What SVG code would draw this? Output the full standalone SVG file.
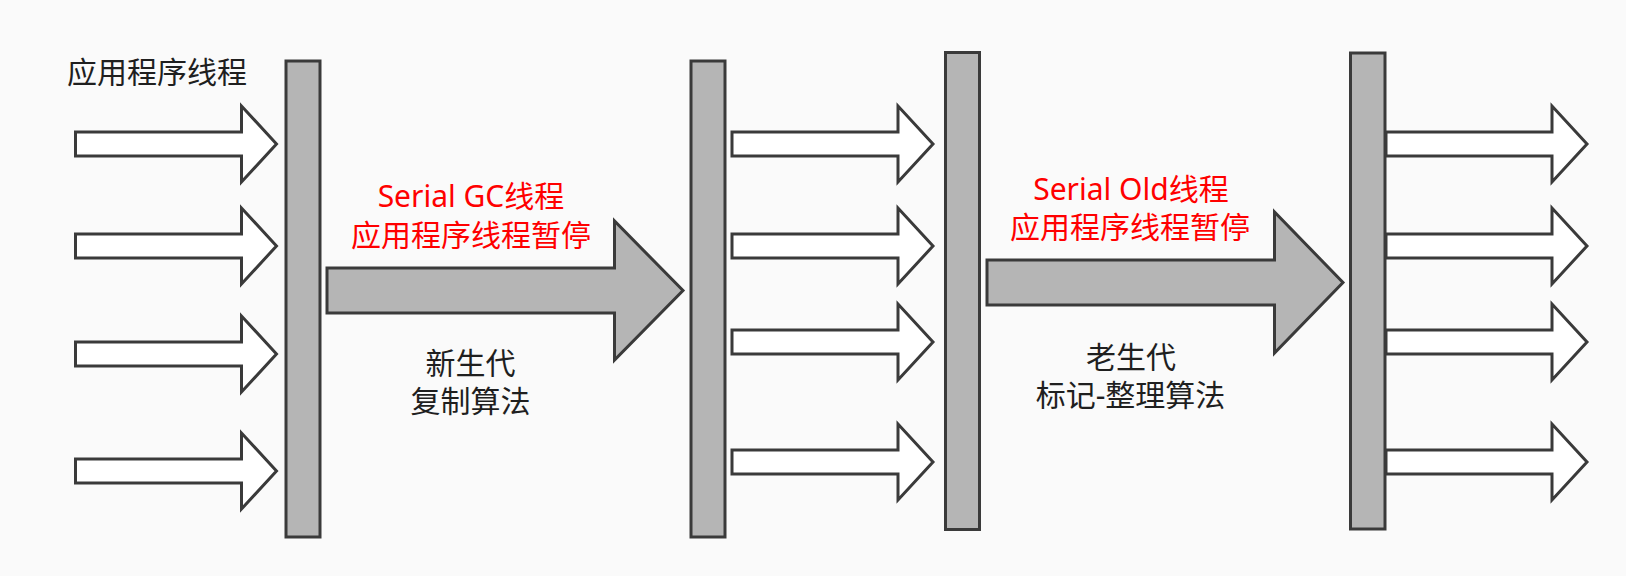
<svg xmlns="http://www.w3.org/2000/svg" xmlns:xlink="http://www.w3.org/1999/xlink" width="1626" height="576" viewBox="0 0 1626 576">
  <style>
    .bar { fill: #b5b5b5; stroke: #3a3a3a; stroke-width: 3; }
    .thin { fill: #ffffff; stroke: #3a3a3a; stroke-width: 3; stroke-linejoin: miter; }
    .big { fill: #b5b5b5; stroke: #3a3a3a; stroke-width: 3; stroke-linejoin: miter; }
    .t { font-family: "Noto Sans", "Noto Sans CJK SC", sans-serif; font-size: 30px; }
    .black { fill: #1f1f1f; }
    .red { fill: #ff0000; }
  </style>
  <defs>
    <path id="thread" d="M0,-12 H166 V-38 L201,0 L166,38 V12 H0 Z"/>
  </defs>
  <rect width="1626" height="576" fill="#fafafa"/>

  <g id="connectors">
    <use xlink:href="#thread" class="thin" x="75.5" y="144"/>
    <use xlink:href="#thread" class="thin" x="75.5" y="246"/>
    <use xlink:href="#thread" class="thin" x="75.5" y="354"/>
    <use xlink:href="#thread" class="thin" x="75.5" y="471"/>

    <use xlink:href="#thread" class="thin" x="732" y="144"/>
    <use xlink:href="#thread" class="thin" x="732" y="246"/>
    <use xlink:href="#thread" class="thin" x="732" y="342"/>
    <use xlink:href="#thread" class="thin" x="732" y="462"/>

    <use xlink:href="#thread" class="thin" x="1386" y="144"/>
    <use xlink:href="#thread" class="thin" x="1386" y="246"/>
    <use xlink:href="#thread" class="thin" x="1386" y="342"/>
    <use xlink:href="#thread" class="thin" x="1386" y="462"/>

    <path id="gc-young" class="big" d="M327,268 H614.5 V221 L683,290.5 L614.5,360 V313 H327 Z"/>
    <path id="gc-old" class="big" d="M987,260 H1274.5 V212 L1343,282.5 L1274.5,353 V305 H987 Z"/>
  </g>

  <g id="bar1"><rect class="bar" x="286" y="61" width="34" height="476"/></g>
  <g id="bar2"><rect class="bar" x="691" y="61" width="34" height="476"/></g>
  <g id="bar3"><rect class="bar" x="945.5" y="52.5" width="34" height="477"/></g>
  <g id="bar4"><rect class="bar" x="1350.5" y="53" width="34.5" height="476"/></g>

  <g id="label-app">
    <text class="t black" x="67" y="83">应用程序线程</text>
  </g>
  <g id="label-serial-gc">
    <text class="t red" x="471" y="207" text-anchor="middle">Serial GC线程</text>
    <text class="t red" x="471" y="246" text-anchor="middle">应用程序线程暂停</text>
  </g>
  <g id="label-young">
    <text class="t black" x="470.5" y="374" text-anchor="middle">新生代</text>
    <text class="t black" x="470.5" y="412" text-anchor="middle">复制算法</text>
  </g>
  <g id="label-serial-old">
    <text class="t red" x="1131" y="200" text-anchor="middle">Serial Old线程</text>
    <text class="t red" x="1130" y="238" text-anchor="middle">应用程序线程暂停</text>
  </g>
  <g id="label-old">
    <text class="t black" x="1131" y="368" text-anchor="middle">老生代</text>
    <text class="t black" x="1130.5" y="406" text-anchor="middle">标记-整理算法</text>
  </g>
</svg>
